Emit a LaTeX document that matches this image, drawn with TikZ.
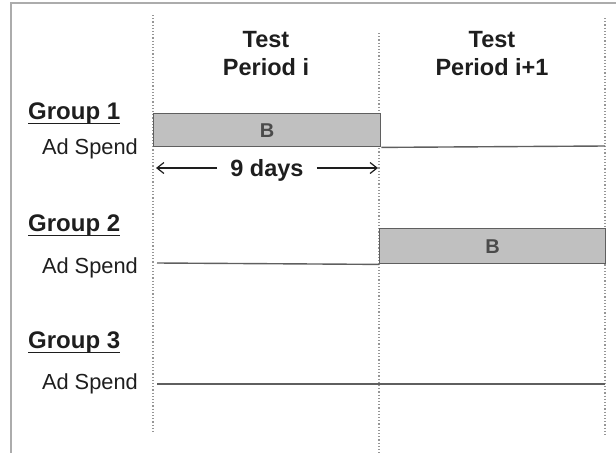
\documentclass[tikz,border=0pt]{standalone}
\usepackage{fontspec}
\setmainfont{Liberation Sans}
\usepackage{tikz}
\usetikzlibrary{arrows.meta,positioning,calc}
\definecolor{frameGray}{RGB}{172,172,172}
\definecolor{dotGray}{RGB}{150,150,150}
\definecolor{barFill}{RGB}{192,192,192}
\definecolor{barEdge}{RGB}{95,95,95}
\definecolor{inkGray}{RGB}{30,30,30}
\definecolor{letterGray}{RGB}{75,75,75}

\begin{document}
\begin{tikzpicture}[x=1pt,y=-1pt,
                period/.style={font=\fontsize{23.5}{27}\selectfont\bfseries,text=inkGray,inner sep=0pt,anchor=base},
                group/.style={font=\fontsize{24}{27}\selectfont\bfseries,text=inkGray,inner sep=0pt,anchor=base west},
                spendlabel/.style={font=\fontsize{21.8}{25}\selectfont,text=inkGray,inner sep=0pt,anchor=base east},
                barbox/.style={draw=barEdge,fill=barFill,line width=1.4pt,anchor=north west,
                              font=\fontsize{20}{23}\selectfont\bfseries,text=letterGray},
                spendline/.style={draw=barEdge,line width=1.4pt},
                divider/.style={dotGray,dotted,line width=1.2pt},
                dimarrow/.style={-{Straight Barb[length=7pt,width=11pt]},inkGray,line width=1.2pt}
            ]
                \useasboundingbox (0,0) rectangle (616,453);
                \draw[frameGray,line width=2.2pt] (616,3) -- (11,3) -- (11,453);
                % dotted period dividers
                \coordinate (v1t) at (153,15);  \coordinate (v1b) at (153,433);
                \coordinate (v2t) at (379,33);  \coordinate (v2b) at (379,453);
                \coordinate (v3t) at (605,18);  \coordinate (v3b) at (605,435);
                \draw[divider] (v1t) -- (v1b);
                \draw[divider] (v2t) -- (v2b);
                \draw[divider] (v3t) -- (v3b);
                % period headers
                \node[period] (p1a) at (266,47) {Test};
                \node[period] (p1b) at (266,75) {Period i};
                \node[period] (p2a) at (492,47) {Test};
                \node[period] (p2b) at (492,75) {Period i+1};
                % group labels
                \node[group] (g1) at (28,119) {Group 1};
                \node[group] (g2) at (28,231) {Group 2};
                \node[group] (g3) at (28,348) {Group 3};
                \foreach \g in {g1,g2,g3}
                    \draw[inkGray,line width=1.6pt] ([yshift=-4.5pt]\g.base west) -- ([yshift=-4.5pt]\g.base east);
                \node[spendlabel] (s1) at (138,154) {Ad Spend};
                \node[spendlabel] (s2) at (138,273) {Ad Spend};
                \node[spendlabel] (s3) at (138,389) {Ad Spend};
                % group 1
                \node[barbox,minimum width=227pt,minimum height=33pt] (b1) at (153,113) {B};
                \coordinate (e1) at (605,146);
                \draw[spendline] (b1.south east) -- (e1);
                \node[font=\fontsize{23.5}{27}\selectfont\bfseries,text=inkGray,inner xsep=13pt,inner ysep=0pt,anchor=base] (nd) at (267,176) {9 days};
                \coordinate (a1) at (156,168);
                \coordinate (a2) at (378,168);
                \draw[dimarrow] (nd.west |- a1) -- (a1);
                \draw[dimarrow] (nd.east |- a2) -- (a2);
                % group 2
                \node[barbox,minimum width=226pt,minimum height=35pt] (b2) at (379,228) {B};
                \coordinate (l2) at (157,263);
                \draw[spendline] (l2) -- (b2.south west);
                % group 3
                \coordinate (l3) at (157,384);
                \coordinate (e3) at (605,384);
                \draw[spendline] (l3) -- (e3);
            \end{tikzpicture}
\end{document}
